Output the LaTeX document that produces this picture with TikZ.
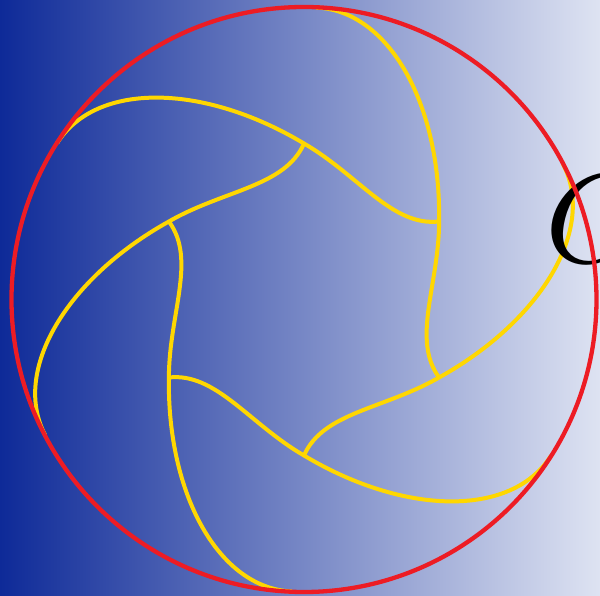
\documentclass[tikz,border=0pt]{standalone}
\definecolor{bgleft}{RGB}{14,42,152}
\definecolor{bgright}{RGB}{222,227,242}
\definecolor{ringred}{RGB}{237,28,36}
\definecolor{gold}{RGB}{255,215,0}
\begin{document}
\begin{tikzpicture}[x=1pt,y=1pt,
  curve/.style={draw=gold, line width=4pt},
  ring/.style={draw=ringred, line width=4.3pt},
  biglabel/.style={anchor=base west, inner sep=0pt}]
\useasboundingbox (-304,-296.5) rectangle (296,299.5);
\shade[left color=bgleft, right color=bgright] (-304,-296.5) rectangle (296,299.5);
\foreach \a in {0,60,...,300} {
  \begin{scope}[rotate=\a]
    \draw[curve] (12,292) .. controls (85,289) and (137,195) .. (135.1,78)
                 .. controls (135.1,15) and (107,-40) .. (135.1,-78);
  \end{scope}
}
\node[biglabel] (lbl) at (241,36.5) {\scalebox{12.7}{$G$}};
\draw[ring] (0,0) circle (292.5);
\end{tikzpicture}
\end{document}
